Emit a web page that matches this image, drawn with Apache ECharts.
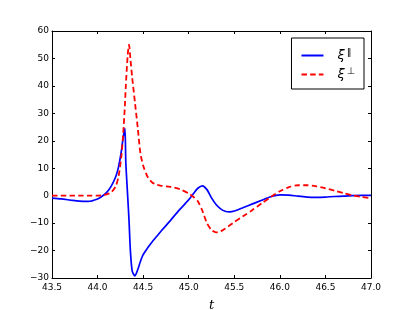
<!DOCTYPE html>
<html>
<head>
<meta charset="utf-8">
<script src="https://cdn.jsdelivr.net/npm/echarts@6/dist/echarts.min.js"></script>
<style>html,body{margin:0;padding:0;background:#fff}#c{width:413px;height:310px}</style>
</head>
<body>
<div id="c"></div>
<script>
// time values t
var tValues = [43.5, 43.6, 43.7, 43.8, 43.9, 44.0, 44.05, 44.1, 44.15, 44.2, 44.23, 44.26, 44.28, 44.30, 44.31, 44.33, 44.345, 44.36, 44.38, 44.41, 44.44, 44.47, 44.5, 44.55, 44.6, 44.65, 44.7, 44.8, 44.9, 45.0, 45.05, 45.1, 45.15, 45.2, 45.25, 45.3, 45.35, 45.4, 45.45, 45.5, 45.6, 45.7, 45.8, 45.9, 46.0, 46.1, 46.2, 46.3, 46.4, 46.5, 46.6, 46.7, 46.8, 46.9, 47.0];
// xi parallel (blue, solid)
var xiPar = [-0.9, -1.2, -1.6, -2.0, -2.1, -1.2, -0.2, 1.2, 3.5, 7.0, 10.5, 16, 21, 24.5, 12, 0, -9, -20, -27.5, -29.2, -27, -24, -21.5, -19, -16.8, -14.8, -12.8, -9, -5.1, -1.5, 0.7, 2.7, 3.6, 2.2, -0.8, -3.2, -4.8, -5.7, -5.9, -5.6, -4.3, -3.0, -1.7, -0.4, 0.3, 0.2, -0.2, -0.5, -0.6, -0.5, -0.3, -0.2, 0, 0.1, 0.1];
// xi perpendicular (red, dashed)
var xiPerp = [0, 0, 0, 0, 0, 0, 0.1, 0.5, 1.2, 3.5, 7, 14, 22, 33, 40, 51, 55, 50, 43, 34, 25, 15.5, 11, 6.8, 4.8, 4.0, 3.6, 3.2, 2.4, 0.8, -0.4, -2.0, -5.5, -10, -12.5, -13.4, -13, -12, -10.8, -9.6, -7.4, -5.2, -2.8, -0.5, 1.6, 3.1, 3.8, 3.8, 3.4, 2.7, 1.8, 0.9, 0.1, -0.5, -0.9];
var seriesNames = ['ξ‖', 'ξ⊥'];
var xTitle = 't';

var chart = echarts.init(document.getElementById('c'), null, {renderer: 'canvas'});
var lbl = {fontFamily: 'DejaVu Sans', fontSize: 9, color: '#000'};
var tickStyle = {show: true, inside: true, length: 3, lineStyle: {color: '#000', width: 1}};
var axLine = {show: true, onZero: false, lineStyle: {color: '#000', width: 1}};
function pairs(arr) { return tValues.map(function (t, i) { return [t, arr[i]]; }); }
chart.setOption({
  animation: false,
  backgroundColor: '#fff',
  grid: {left: 52, right: 42, top: 31, bottom: 32, containLabel: false, outerBoundsMode: 'none'},
  xAxis: [
    {type: 'value', min: 43.5, max: 47.0, interval: 0.5, position: 'bottom',
     axisLine: axLine, axisTick: tickStyle, splitLine: {show: false},
     axisLabel: Object.assign({margin: 5, formatter: function (v) { return v.toFixed(1); }}, lbl),
     name: xTitle, nameLocation: 'middle', nameGap: 21,
     nameTextStyle: {fontFamily: 'DejaVu Serif', fontStyle: 'italic', fontSize: 13, color: '#000'}},
    {type: 'value', min: 43.5, max: 47.0, interval: 0.5, position: 'top',
     axisLine: axLine, axisTick: tickStyle, splitLine: {show: false}, axisLabel: {show: false}}
  ],
  yAxis: [
    {type: 'value', min: -30, max: 60, interval: 10, position: 'left',
     axisLine: axLine, axisTick: tickStyle, splitLine: {show: false},
     axisLabel: Object.assign({margin: 3, formatter: function (v) { return String(v).replace('-', '\u2212'); }}, lbl)},
    {type: 'value', min: -30, max: 60, interval: 10, position: 'right',
     axisLine: axLine, axisTick: tickStyle, splitLine: {show: false}, axisLabel: {show: false}}
  ],
  legend: {
    orient: 'vertical', right: 49, top: 38,
    padding: [10, 9, 8, 9],
    itemWidth: 22, itemHeight: 12, itemGap: 5,
    borderColor: '#000', borderWidth: 1, borderRadius: 0, backgroundColor: '#fff',
    itemStyle: {color: 'rgba(0,0,0,0)', borderWidth: 0, opacity: 0},
    data: seriesNames,
    formatter: function (name) { return '{x|' + name.charAt(0) + '}{s|' + name.slice(1) + '}'; },
    textStyle: {
      color: '#000',
      rich: {
        x: {fontFamily: 'DejaVu Sans', fontStyle: 'italic', fontSize: 13, padding: [0, 0, 0, 9], color: '#000'},
        s: {fontFamily: 'DejaVu Sans', fontSize: 9.5, verticalAlign: 'top', padding: [0, 0, 5, 2], color: '#000'}
      }
    }
  },
  series: [
    {name: seriesNames[0], type: 'line', data: pairs(xiPar), showSymbol: false, symbol: 'none', smooth: 0.25,
     lineStyle: {color: '#0000ff', width: 1.7}, itemStyle: {color: '#0000ff'}},
    {name: seriesNames[1], type: 'line', data: pairs(xiPerp), showSymbol: false, symbol: 'none', smooth: 0.25,
     lineStyle: {color: '#ff0000', width: 1.8, type: [5.5, 3.2]}, itemStyle: {color: '#ff0000'}}
  ]
});
</script>
</body>
</html>
